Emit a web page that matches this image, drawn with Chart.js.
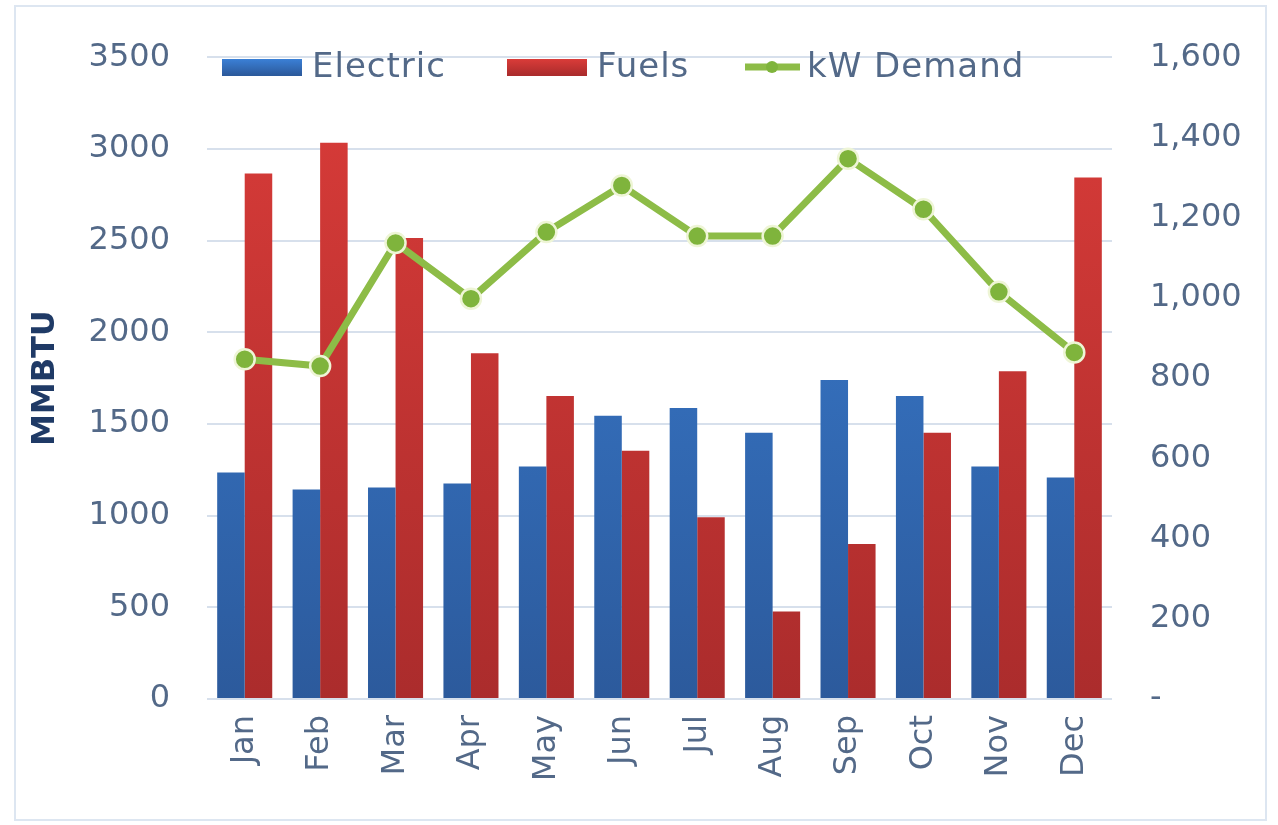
<!DOCTYPE html>
<html>
<head>
<meta charset="utf-8">
<script src="https://cdn.jsdelivr.net/npm/chart.js@4.4.0/dist/chart.umd.min.js"></script>
<style>
html, body { margin: 0; padding: 0; background: #fff; }
#frame { position: absolute; left: 14px; top: 5px; width: 1249px; height: 812px; border: 2px solid #dde6f1; }
#wrap { position: absolute; left: 0; top: 0; width: 1278px; height: 825px; }
</style>
</head>
<body>
<div id="frame"></div>
<div id="wrap"><canvas id="energyChart"></canvas></div>
<script>
const months = ['Jan', 'Feb', 'Mar', 'Apr', 'May', 'Jun', 'Jul', 'Aug', 'Sep', 'Oct', 'Nov', 'Dec'];
const electric = [1235, 1143, 1154, 1175, 1268, 1544, 1587, 1452, 1739, 1652, 1268, 1208];
const fuels = [2866, 3034, 2514, 1885, 1652, 1354, 991, 477, 845, 1452, 1788, 2844];
const kwDemand = [847, 830, 1137, 998, 1164, 1280, 1154, 1154, 1347, 1221, 1015, 864];

const textColor = '#536988';
const gridColor = '#d7e0ec';
const fontFamily = '"DejaVu Sans", sans-serif';

function verticalGradient(context, topColor, bottomColor) {
    const chart = context.chart;
    const area = chart.chartArea;
    if (!area) return topColor;
    const g = chart.ctx.createLinearGradient(0, area.top, 0, area.bottom);
    g.addColorStop(0, topColor);
    g.addColorStop(1, bottomColor);
    return g;
}

// legend drawn inside the plot, just under the top gridline
const topLegend = {
    id: 'topLegend',
    afterDraw(chart) {
        const ctx = chart.ctx;
        const ds = chart.data.datasets;
        const xs = [222, 507, 745];
        const y = 67;
        ctx.save();
        ctx.font = '34px ' + fontFamily;
        ctx.letterSpacing = '1px';
        ctx.textBaseline = 'middle';
        ctx.fillStyle = textColor;
        ds.forEach((d, i) => {
            const x = xs[i];
            if (d.type === 'line') {
                ctx.strokeStyle = d.borderColor;
                ctx.lineWidth = 7;
                ctx.beginPath();
                ctx.moveTo(x, y);
                ctx.lineTo(x + 55, y);
                ctx.stroke();
                ctx.beginPath();
                ctx.arc(x + 27, y, 6, 0, Math.PI * 2);
                ctx.fillStyle = d.pointBackgroundColor;
                ctx.fill();
                ctx.fillStyle = textColor;
                ctx.fillText(d.label, x + 62, y + 1);
            } else {
                const g = ctx.createLinearGradient(0, y - 8, 0, y + 8);
                g.addColorStop(0, d.legendColors[0]);
                g.addColorStop(1, d.legendColors[1]);
                ctx.fillStyle = g;
                ctx.fillRect(x, y - 8, 80, 17);
                ctx.fillStyle = textColor;
                ctx.fillText(d.label, x + 90, y + 1);
            }
        });
        ctx.restore();
    }
};

const ctx = document.getElementById('energyChart').getContext('2d');

new Chart(ctx, {
    data: {
        labels: months,
        datasets: [
            {
                type: 'bar',
                label: 'Electric',
                data: electric,
                yAxisID: 'y',
                order: 2,
                legendColors: ['#3b80d6', '#2c5a9c'],
                backgroundColor: c => verticalGradient(c, '#3b80d6', '#2c5a9c'),
                categoryPercentage: 0.73,
                barPercentage: 1.0
            },
            {
                type: 'bar',
                label: 'Fuels',
                data: fuels,
                yAxisID: 'y',
                order: 2,
                legendColors: ['#da3c39', '#ab2c2c'],
                backgroundColor: c => verticalGradient(c, '#da3c39', '#ab2c2c'),
                categoryPercentage: 0.73,
                barPercentage: 1.0
            },
            {
                type: 'line',
                label: 'kW Demand',
                data: kwDemand,
                yAxisID: 'y1',
                order: 0,
                borderColor: '#8dbc47',
                borderWidth: 7,
                pointRadius: 10,
                pointBackgroundColor: '#7fb43c',
                pointBorderColor: '#eef5d6',
                pointBorderWidth: 2.5,
                tension: 0
            }
        ]
    },
    options: {
        responsive: true,
        maintainAspectRatio: false,
        animation: false,
        layout: { padding: { top: 53, left: 0, right: 0, bottom: 0 } },
        plugins: {
            legend: { display: false },
            tooltip: { enabled: false }
        },
        scales: {
            x: {
                grid: { display: false, drawTicks: false },
                border: { display: false },
                ticks: {
                    color: textColor,
                    font: { family: fontFamily, size: 32 },
                    maxRotation: 90,
                    minRotation: 90,
                    padding: 16
                },
                afterFit(scale) { scale.height = 126; }
            },
            y: {
                position: 'left',
                min: 0,
                max: 3500,
                ticks: {
                    stepSize: 500,
                    color: textColor,
                    font: { family: fontFamily, size: 32 },
                    padding: 37,
                    callback: v => String(v)
                },
                grid: { color: gridColor, lineWidth: 2, drawTicks: false },
                border: { display: false },
                title: {
                    display: true,
                    text: 'MMBTU',
                    color: '#1f3a66',
                    font: { family: fontFamily, size: 32, weight: 'bold' },
                    padding: { top: 26, bottom: 0 }
                },
                afterFit(scale) { scale.width = 207; }
            },
            y1: {
                position: 'right',
                min: 0,
                max: 1600,
                ticks: {
                    stepSize: 200,
                    color: textColor,
                    font: { family: fontFamily, size: 32 },
                    padding: 38,
                    callback: v => v === 0 ? '-' : v.toLocaleString('en-US')
                },
                grid: { display: false, drawTicks: false },
                border: { display: false },
                afterFit(scale) { scale.width = 166; }
            }
        }
    },
    plugins: [topLegend]
});
</script>
</body>
</html>
